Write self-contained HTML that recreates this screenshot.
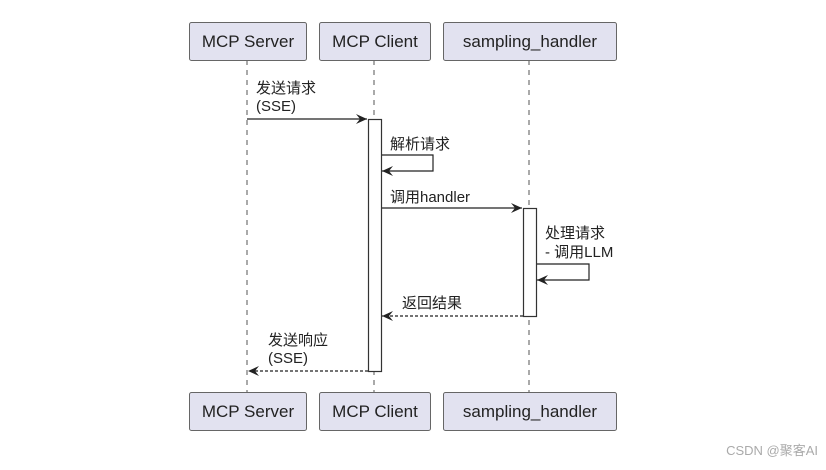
<!DOCTYPE html>
<html><head><meta charset="utf-8"><style>
html,body{margin:0;padding:0;background:#fff;}
svg text{font-family:"Liberation Sans","Noto Sans CJK SC",sans-serif;fill:#222;}
</style></head><body>
<svg width="826" height="465" viewBox="0 0 826 465" xmlns="http://www.w3.org/2000/svg">
<defs>
<marker id="a" markerWidth="12" markerHeight="10" refX="11" refY="5" orient="auto" markerUnits="userSpaceOnUse">
<path d="M0,0 L11,5 L0,10 L4,5 Z" fill="#222"/></marker>
</defs>
<g stroke="#555" stroke-width="1" stroke-dasharray="5,5">
<line x1="247" y1="60" x2="247" y2="392"/>
<line x1="374" y1="60" x2="374" y2="392"/>
<line x1="529" y1="60" x2="529" y2="392"/>
</g>
<g fill="#e2e2f0" stroke="#666" stroke-width="1">
<rect x="189.5" y="22.5" width="117" height="38" rx="2"/>
<rect x="319.5" y="22.5" width="111" height="38" rx="2"/>
<rect x="443.5" y="22.5" width="173" height="38" rx="2"/>
<rect x="189.5" y="392.5" width="117" height="38" rx="2"/>
<rect x="319.5" y="392.5" width="111" height="38" rx="2"/>
<rect x="443.5" y="392.5" width="173" height="38" rx="2"/>
</g>
<g font-size="17" text-anchor="middle">
<text x="248" y="47">MCP Server</text>
<text x="375" y="47">MCP Client</text>
<text x="530" y="47">sampling_handler</text>
<text x="248" y="417">MCP Server</text>
<text x="375" y="417">MCP Client</text>
<text x="530" y="417">sampling_handler</text>
</g>
<g fill="#fff" stroke="#333" stroke-width="1.2">
<rect x="368.5" y="119.5" width="13" height="252"/>
<rect x="523.5" y="208.5" width="13" height="108"/>
</g>
<g stroke="#222" stroke-width="1.2" fill="none">
<line x1="247" y1="119" x2="367" y2="119" marker-end="url(#a)"/>
<polyline points="382,155 433,155 433,171 382,171" marker-end="url(#a)"/>
<line x1="382" y1="208" x2="522" y2="208" marker-end="url(#a)"/>
<polyline points="537,264 589,264 589,280 537,280" marker-end="url(#a)"/>
<line x1="523" y1="316" x2="382" y2="316" stroke-dasharray="3,2" marker-end="url(#a)"/>
<line x1="368" y1="371" x2="248" y2="371" stroke-dasharray="3,2" marker-end="url(#a)"/>
</g>
<g font-size="15">
<text x="256" y="93">发送请求</text>
<text x="256" y="111">(SSE)</text>
<text x="390" y="149">解析请求</text>
<text x="390" y="202">调用handler</text>
<text x="545" y="238">处理请求</text>
<text x="545" y="257">- 调用LLM</text>
<text x="402" y="308">返回结果</text>
<text x="268" y="345">发送响应</text>
<text x="268" y="363">(SSE)</text>
</g>
<text x="818" y="455" font-size="13" text-anchor="end" style="fill:#aaa">CSDN @聚客AI</text>
</svg>
</body></html>
